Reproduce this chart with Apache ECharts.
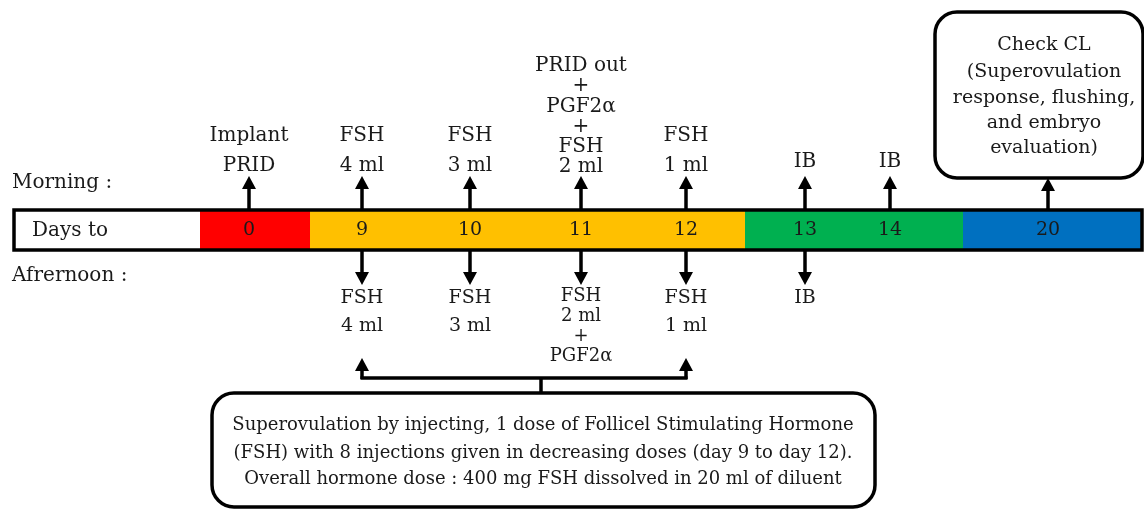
<!DOCTYPE html>
<html><head><meta charset="utf-8">
<script src="https://cdn.jsdelivr.net/npm/echarts@6/dist/echarts.min.js"></script>
<style>html,body{margin:0;padding:0;background:#fff}#c{width:1144px;height:509px}</style>
</head><body><div id="c"></div>
<script>
// ---------------- data ----------------
const days = ['0', '9', '10', '11', '12', '13', '14', '20'];
const morningLabels = ['Implant\nPRID', 'FSH\n4 ml', 'FSH\n3 ml', 'PRID out\n+\nPGF2α\n+\nFSH\n2 ml', 'FSH\n1 ml', 'IB', 'IB', ''];
const afternoonLabels = ['', 'FSH\n4 ml', 'FSH\n3 ml', 'FSH\n2 ml\n+\nPGF2α', 'FSH\n1 ml', 'IB', '', ''];
const phaseNames = ['Days to', 'PRID', 'FSH', 'IB', 'Flushing'];
const phaseLabels = ['Days to', '', '', '', ''];
const rowLabels = ['Morning :', 'Afrernoon :'];
const checkText = ['Check CL', '(Superovulation', 'response, flushing,', 'and embryo', 'evaluation)'];
const checkDay = '20';
const noteText = [
  'Superovulation by injecting, 1 dose of Follicel Stimulating Hormone',
  '(FSH) with 8 injections given in decreasing doses (day 9 to day 12).',
  'Overall hormone dose : 400 mg FSH dissolved in 20 ml of diluent'
];
const bracketDays = ['9', '12'];

// ---------------- layout ----------------
const dayX = [249, 362, 470, 581, 686, 805, 890, 1048];
const phaseBounds = [15, 200, 310, 745, 963, 1142];
const phaseColors = ['#ffffff', '#ff0000', '#ffc000', '#00b050', '#0070c0'];
const BAR_TOP = 210, BAR_BOT = 250;
const SERIF = '"DejaVu Serif", serif';
const INK = '#1a1a1a';

function xOf(d) { return dayX[days.indexOf(d)]; }

function upArrow(api, x, y0, yTop) {
  const p0 = api.coord([x, y0]), p1 = api.coord([x, yTop]);
  return [
    { type: 'line', shape: { x1: p0[0], y1: p0[1], x2: p1[0], y2: p1[1] + 10 }, style: { stroke: '#000', lineWidth: 3.5 } },
    { type: 'polygon', shape: { points: [[p1[0] - 7, p1[1] + 13], [p1[0] + 7, p1[1] + 13], [p1[0], p1[1]]] }, style: { fill: '#000' } }
  ];
}
function downArrow(api, x, y0, yBot) {
  const p0 = api.coord([x, y0]), p1 = api.coord([x, yBot]);
  return [
    { type: 'line', shape: { x1: p0[0], y1: p0[1], x2: p1[0], y2: p1[1] - 10 }, style: { stroke: '#000', lineWidth: 3.5 } },
    { type: 'polygon', shape: { points: [[p1[0] - 7, p1[1] - 13], [p1[0] + 7, p1[1] - 13], [p1[0], p1[1]]] }, style: { fill: '#000' } }
  ];
}
function txt(api, s, x, y, style) {
  const p = api.coord([x, y]);
  return {
    type: 'text',
    style: Object.assign({
      text: s, x: p[0], y: p[1], align: 'center', verticalAlign: 'middle',
      fontFamily: SERIF, fontSize: 20, fill: INK
    }, style || {})
  };
}

const chart = echarts.init(document.getElementById('c'), null, { renderer: 'canvas' });

const series = [
  // phase segments
  {
    type: 'custom', silent: true, z: 2,
    data: phaseNames.map((n, i) => [i]),
    renderItem: function (params, api) {
      const i = params.dataIndex;
      const a = api.coord([phaseBounds[i], BAR_TOP]), b = api.coord([phaseBounds[i + 1], BAR_BOT]);
      const ch = [{ type: 'rect', shape: { x: a[0], y: a[1], width: b[0] - a[0], height: b[1] - a[1] }, style: { fill: phaseColors[i] } }];
      if (phaseLabels[i]) ch.push(txt(api, phaseLabels[i], 70, 231, {}));
      return { type: 'group', children: ch };
    }
  },
  // bar outline
  {
    type: 'custom', silent: true, z: 3,
    data: [[0]],
    renderItem: function (params, api) {
      const a = api.coord([phaseBounds[0] - 1, BAR_TOP]), b = api.coord([phaseBounds[5], BAR_BOT]);
      return { type: 'rect', shape: { x: a[0], y: a[1], width: b[0] - a[0], height: b[1] - a[1] }, style: { fill: 'none', stroke: '#000', lineWidth: 3.5 } };
    }
  },
  // day numbers
  {
    type: 'custom', silent: true, z: 4,
    data: days.map((d, i) => [dayX[i], i]),
    renderItem: function (params, api) {
      const i = params.dataIndex;
      return txt(api, days[i], dayX[i], 230, { fontSize: 19 });
    }
  },
  // morning arrows + labels
  {
    type: 'custom', silent: true, z: 4,
    data: days.map((d, i) => [dayX[i], i]),
    renderItem: function (params, api) {
      const i = params.dataIndex;
      const ch = [];
      if (morningLabels[i]) {
        ch.push.apply(ch, upArrow(api, dayX[i], BAR_TOP, 176));
        const lines = morningLabels[i].split('\n').length;
        const lh = lines > 2 ? 20.2 : 30;
        const p = api.coord([dayX[i], lines === 2 ? 181 : (lines === 1 ? 177 : 177)]);
        ch.push({ type: 'text', style: { text: morningLabels[i], x: p[0], y: p[1], align: 'center', verticalAlign: 'bottom', fontFamily: SERIF, fontSize: 20, lineHeight: lh, fill: INK } });
      }
      return { type: 'group', children: ch };
    }
  },
  // afternoon arrows + labels
  {
    type: 'custom', silent: true, z: 4,
    data: days.map((d, i) => [dayX[i], i]),
    renderItem: function (params, api) {
      const i = params.dataIndex;
      const ch = [];
      if (afternoonLabels[i]) {
        ch.push.apply(ch, downArrow(api, dayX[i], BAR_BOT, 285));
        const lines = afternoonLabels[i].split('\n').length;
        const lh = lines > 2 ? 20 : 28;
        const p = api.coord([dayX[i], lines > 2 ? 286 : 284]);
        ch.push({ type: 'text', style: { text: afternoonLabels[i], x: p[0], y: p[1], align: 'center', verticalAlign: 'top', fontFamily: SERIF, fontSize: lines > 2 ? 18 : 19, lineHeight: lh, fill: INK } });
      }
      return { type: 'group', children: ch };
    }
  },
  // row labels
  {
    type: 'custom', silent: true, z: 4,
    data: rowLabels.map((r, i) => [i]),
    renderItem: function (params, api) {
      const i = params.dataIndex;
      return txt(api, rowLabels[i], 12, i === 0 ? 183 : 276, { align: 'left' });
    }
  },
  // check CL box + arrow
  {
    type: 'custom', silent: true, z: 4,
    data: [[xOf(checkDay)]],
    renderItem: function (params, api) {
      const x = xOf(checkDay);
      const a = api.coord([935, 12]), b = api.coord([1143, 178]);
      const ch = upArrow(api, x, BAR_TOP, 178);
      ch.push({ type: 'rect', shape: { x: a[0], y: a[1], width: b[0] - a[0], height: b[1] - a[1], r: 22 }, style: { fill: '#fff', stroke: '#000', lineWidth: 3.5 } });
      const ys = [45, 72, 98, 123, 148];
      checkText.forEach((t, k) => ch.push(txt(api, t, 1044, ys[k], { fontSize: 19 })));
      return { type: 'group', children: ch };
    }
  },
  // bracket + note box
  {
    type: 'custom', silent: true, z: 4,
    data: [[0]],
    renderItem: function (params, api) {
      const x1 = xOf(bracketDays[0]), x2 = xOf(bracketDays[1]);
      const ch = [];
      ch.push.apply(ch, upArrow(api, x1, 379, 358));
      ch.push.apply(ch, upArrow(api, x2, 379, 358));
      const l = api.coord([x1 - 1.5, 378]), r = api.coord([x2 + 1.5, 378]);
      ch.push({ type: 'line', shape: { x1: l[0], y1: l[1], x2: r[0], y2: r[1] }, style: { stroke: '#000', lineWidth: 3.5 } });
      const m = api.coord([541, 378]), mb = api.coord([541, 394]);
      ch.push({ type: 'line', shape: { x1: m[0], y1: m[1], x2: mb[0], y2: mb[1] }, style: { stroke: '#000', lineWidth: 3.5 } });
      const a = api.coord([212, 393]), b = api.coord([875, 507]);
      ch.push({ type: 'rect', shape: { x: a[0], y: a[1], width: b[0] - a[0], height: b[1] - a[1], r: 22 }, style: { fill: '#fff', stroke: '#000', lineWidth: 3.5 } });
      const ys = [425, 453, 479];
      noteText.forEach((t, k) => ch.push(txt(api, t, 543, ys[k], { fontSize: 18 })));
      return { type: 'group', children: ch };
    }
  }
];

chart.setOption({
  animation: false,
  backgroundColor: '#fff',
  grid: { left: 0, right: 0, top: 0, bottom: 0 },
  xAxis: { type: 'value', min: 0, max: 1144, show: false },
  yAxis: { type: 'value', min: 0, max: 509, inverse: true, show: false },
  series: series
});
</script>
</body></html>
